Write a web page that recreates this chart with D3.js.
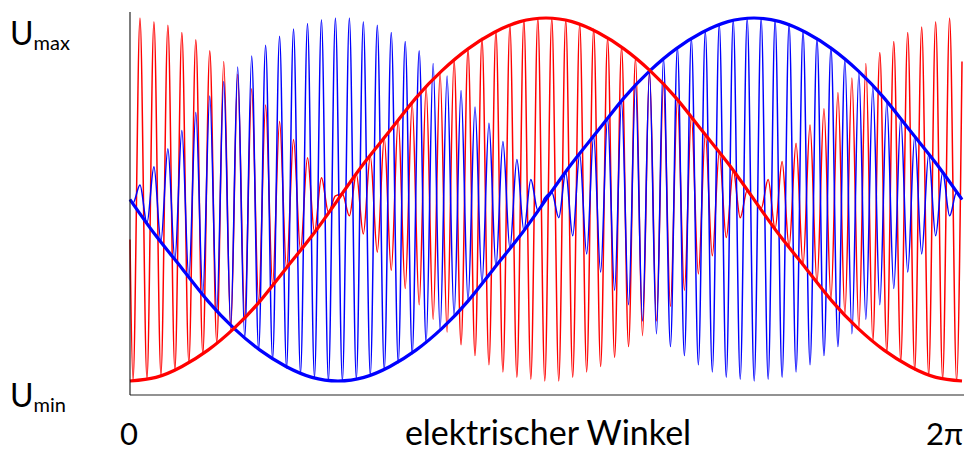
<!DOCTYPE html>
<html><head><meta charset="utf-8">
<script src="https://cdn.jsdelivr.net/npm/d3@7"></script>
<style>
html,body{margin:0;padding:0;background:#fff;}
svg{display:block;}
text{font-family:Lato,"Open Sans",sans-serif;fill:#000;}
</style>
</head><body>
<svg id="chart" width="964" height="451"></svg>
<script>
// Envelope curves (thick lines), sampled every 11.25 degrees of electrical angle
const envelopeAngles = [0,11.25,22.5,33.75,45,56.25,67.5,78.75,90,101.25,112.5,123.75,135,146.25,157.5,168.75,180,191.25,202.5,213.75,225,236.25,247.5,258.75,270,281.25,292.5,303.75,315,326.25,337.5,348.75,360];
const redEnvelope  = [-1,-0.98,-0.92,-0.83,-0.71,-0.56,-0.38,-0.2,0,0.2,0.38,0.56,0.71,0.83,0.92,0.98,1,0.98,0.92,0.83,0.71,0.56,0.38,0.2,0,-0.2,-0.38,-0.56,-0.71,-0.83,-0.92,-0.98,-1];
const blueEnvelope = [0,-0.2,-0.38,-0.56,-0.71,-0.83,-0.92,-0.98,-1,-0.98,-0.92,-0.83,-0.71,-0.56,-0.38,-0.2,0,0.2,0.38,0.56,0.71,0.83,0.92,0.98,1,0.98,0.92,0.83,0.71,0.56,0.38,0.2,0];

// Modulated carrier signals (thin lines): turning points
const carrierAngles = [0,1.30,4.32,7.34,10.36,13.38,16.40,19.42,22.44,25.46,28.48,31.50,34.52,37.54,40.56,43.58,46.60,49.62,52.64,55.66,58.68,61.70,64.72,67.74,70.76,73.78,76.80,79.82,82.84,85.86,88.88,91.90,94.92,97.94,100.96,103.98,107.00,110.02,113.04,116.06,119.08,122.10,125.12,128.14,131.16,134.18,137.20,140.22,143.24,146.26,149.28,152.30,155.32,158.34,161.36,164.38,167.40,170.42,173.44,176.46,179.48,182.50,185.52,188.54,191.56,194.58,197.60,200.62,203.64,206.66,209.68,212.70,215.72,218.74,221.76,224.78,227.80,230.82,233.84,236.86,239.88,242.90,245.92,248.94,251.96,254.98,258.00,261.02,264.04,267.06,270.08,273.10,276.12,279.14,282.16,285.18,288.20,291.22,294.24,297.26,300.28,303.30,306.32,309.34,312.36,315.38,318.40,321.42,324.44,327.46,330.48,333.50,336.52,339.54,342.56,345.58,348.60,351.62,354.64,357.66,360];
const redSignal = [-0.22,-1.00,1.00,-0.99,0.98,-0.97,0.96,-0.94,0.92,-0.90,0.88,-0.85,0.82,-0.79,0.76,-0.72,0.69,-0.65,0.61,-0.56,0.52,-0.47,0.43,-0.38,0.33,-0.28,0.23,-0.18,0.12,-0.07,0.02,0.03,-0.09,0.14,-0.19,0.24,-0.29,0.34,-0.39,0.44,-0.49,0.53,-0.58,0.62,-0.66,0.70,-0.73,0.77,-0.80,0.83,-0.86,0.89,-0.91,0.93,-0.95,0.96,-0.98,0.99,-0.99,1.00,-1.00,1.00,-1.00,0.99,-0.98,0.97,-0.95,0.94,-0.92,0.89,-0.87,0.84,-0.81,0.78,-0.75,0.71,-0.67,0.63,-0.59,0.55,-0.50,0.46,-0.41,0.36,-0.31,0.26,-0.21,0.16,-0.10,0.05,0.00,-0.05,0.11,-0.16,0.21,-0.26,0.31,-0.36,0.41,-0.46,0.50,-0.55,0.59,-0.63,0.67,-0.71,0.75,-0.78,0.81,-0.84,0.87,-0.89,0.92,-0.94,0.95,-0.97,0.98,-0.99,1.00,-1.00,0.76];
const blueSignal = [0,-0.02,0.08,-0.13,0.18,-0.23,0.28,-0.33,0.38,-0.43,0.48,-0.52,0.57,-0.61,0.65,-0.69,0.73,-0.76,0.79,-0.83,0.85,-0.88,0.90,-0.93,0.94,-0.96,0.97,-0.98,0.99,-1.00,1.00,-1.00,1.00,-0.99,0.98,-0.97,0.96,-0.94,0.92,-0.90,0.87,-0.85,0.82,-0.79,0.75,-0.72,0.68,-0.64,0.60,-0.56,0.51,-0.46,0.42,-0.37,0.32,-0.27,0.22,-0.17,0.11,-0.06,0.01,0.04,-0.10,0.15,-0.20,0.25,-0.30,0.35,-0.40,0.45,-0.50,0.54,-0.58,0.63,-0.67,0.70,-0.74,0.78,-0.81,0.84,-0.86,0.89,-0.91,0.93,-0.95,0.97,-0.98,0.99,-0.99,1.00,-1.00,1.00,-0.99,0.99,-0.98,0.97,-0.95,0.93,-0.91,0.89,-0.86,0.84,-0.81,0.77,-0.74,0.70,-0.66,0.62,-0.58,0.54,-0.49,0.45,-0.40,0.35,-0.30,0.25,-0.20,0.15,-0.09,0.04,0];

// Labels
const xTickValues = [0, 360];
const xTickLabels = ["0", "2π"];
const yTickValues = [1, -1];
const yTickBase = ["U", "U"];
const yTickSub = ["max", "min"];
const xAxisTitle = "elektrischer Winkel";

const svg = d3.select("#chart");
const x = d3.scaleLinear().domain([0, 360]).range([130, 962]);
const y = d3.scaleLinear().domain([-1, 1]).range([381, 18]);

const axisY = 395;

const lineOf = (angles, vals, curve) => d3.line()
  .x((d, i) => x(angles[i]))
  .y(d => y(d))
  .curve(curve)(vals);

// thin modulated signals
svg.append("path").attr("d", lineOf(carrierAngles, redSignal, d3.curveMonotoneX))
  .attr("fill", "none").attr("stroke", "#ff0000").attr("stroke-width", 1.5);
svg.append("path").attr("d", lineOf(carrierAngles, blueSignal, d3.curveMonotoneX))
  .attr("fill", "none").attr("stroke", "#0000ff").attr("stroke-width", 1.5);

// thick envelopes
svg.append("path").attr("d", lineOf(envelopeAngles, blueEnvelope, d3.curveNatural))
  .attr("fill", "none").attr("stroke", "#0000ff").attr("stroke-width", 3.2);
svg.append("path").attr("d", lineOf(envelopeAngles, redEnvelope, d3.curveNatural))
  .attr("fill", "none").attr("stroke", "#ff0000").attr("stroke-width", 3.2);

// axes
svg.append("line").attr("x1", x(0)).attr("x2", 964).attr("y1", axisY).attr("y2", axisY)
  .attr("stroke", "#6e6e6e").attr("stroke-width", 1.6);
svg.append("line").attr("x1", x(0)).attr("x2", x(0)).attr("y1", 12).attr("y2", axisY)
  .attr("stroke", "#111").attr("stroke-width", 1.1);

// y labels
yTickValues.forEach((v, i) => {
  const t = svg.append("text").attr("x", 10).attr("y", y(v) + (v > 0 ? 27 : 26))
    .style("font-size", "32px");
  t.append("tspan").text(yTickBase[i]);
  t.append("tspan").attr("dy", 5).style("font-size", "20px").text(yTickSub[i]);
});

// x labels
xTickValues.forEach((v, i) => {
  svg.append("text").attr("x", i === 0 ? x(v) - 1 : x(v) + 1).attr("y", 445)
    .attr("text-anchor", i === 0 ? "middle" : "end")
    .style("font-size", "31px").text(xTickLabels[i]);
});
svg.append("text").attr("x", x(180) + 2).attr("y", 445).attr("text-anchor", "middle")
  .style("font-size", "34px").text(xAxisTitle);
</script>
</body></html>
